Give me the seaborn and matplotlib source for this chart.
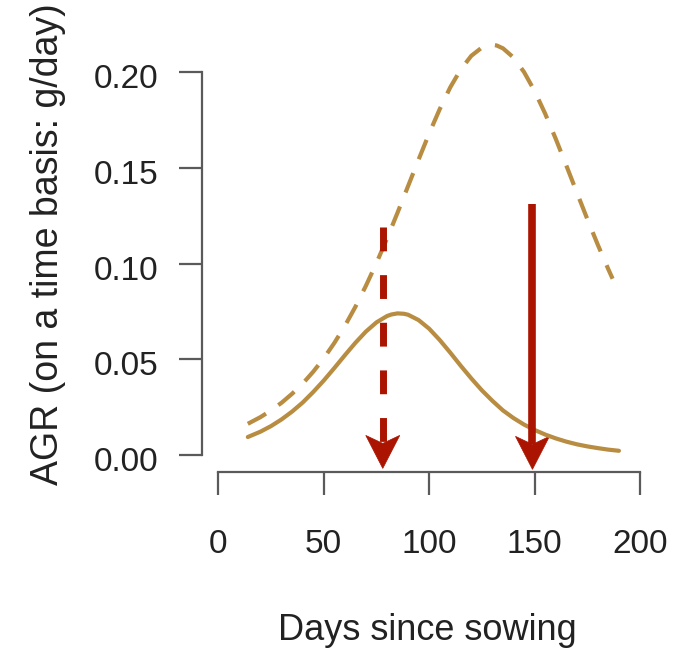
import matplotlib
matplotlib.use("Agg")
import matplotlib.pyplot as plt
from matplotlib.patches import Polygon
from matplotlib.transforms import IdentityTransform, ScaledTranslation
import seaborn as sns

# Absolute growth rate curves (g/day) against days since sowing
days_low = [14, 20, 25, 30, 35, 40, 45, 50, 55, 60, 65, 70, 75, 80, 82, 85,
            88, 90, 95, 100, 105, 110, 115, 120, 125, 130, 135, 140, 145,
            150, 155, 160, 165, 170, 175, 180, 185, 190]
agr_low = [0.0094, 0.0122, 0.0151, 0.0186, 0.0227, 0.0274, 0.0329, 0.0389,
           0.0454, 0.0521, 0.0586, 0.0645, 0.0693, 0.0726, 0.0734, 0.0740,
           0.0738, 0.0733, 0.0705, 0.0660, 0.0601, 0.0535, 0.0466, 0.0400,
           0.0338, 0.0283, 0.0233, 0.0193, 0.0159, 0.0131, 0.0107, 0.0087,
           0.0070, 0.0056, 0.0045, 0.0036, 0.0028, 0.0022]

days_high = [14, 20, 25, 30, 35, 40, 45, 50, 55, 60, 65, 70, 75, 80, 85, 90,
             95, 100, 105, 110, 115, 120, 125, 128, 130, 132, 135, 140, 145,
             150, 155, 160, 165, 170, 175, 180, 185, 187]
agr_high = [0.0163, 0.0198, 0.0233, 0.0273, 0.0320, 0.0373, 0.0435, 0.0505,
            0.0585, 0.0674, 0.0774, 0.0884, 0.1003, 0.1131, 0.1266, 0.1405,
            0.1544, 0.1680, 0.1807, 0.1921, 0.2015, 0.2086, 0.2129, 0.2140,
            0.2143, 0.2140, 0.2125, 0.2077, 0.2001, 0.1902, 0.1784, 0.1653,
            0.1514, 0.1373, 0.1233, 0.1098, 0.0970, 0.0921]

# Arrows marking the days of maximum growth rate
arrow_days = [78, 149]
arrow_from = [0.119, 0.131]
arrow_to = [-0.007, -0.0075]

x_ticks = [0, 50, 100, 150, 200]
y_ticks = [0.00, 0.05, 0.10, 0.15, 0.20]
y_tick_labels = ["0.00", "0.05", "0.10", "0.15", "0.20"]

sns.set_style("white")
plt.rcParams["font.family"] = ["Liberation Sans", "DejaVu Sans"]

GOLD = "#B88C41"
RED = "#AA1400"
AXIS = "#5A5A5A"
TEXT = "#222222"

W, H = 684, 652
fig = plt.figure(figsize=(W / 100, H / 100), dpi=100)
ax = fig.add_axes([202 / W, 1 - 472 / H, (660 - 202) / W, (472 - 20) / H])

sns.lineplot(x=days_low, y=agr_low, ax=ax, color=GOLD, linewidth=3.0)
sns.lineplot(x=days_high, y=agr_high, ax=ax, color=GOLD, linewidth=3.0)
ax.lines[-1].set_dashes((5.0, 3.6))

ax.set_xlim(-7.73, 209.48)
ax.set_ylim(-0.00888, 0.2273)

# axis styling: detached spines limited to the tick range
for side in ("top", "right"):
    ax.spines[side].set_visible(False)
for side in ("left", "bottom"):
    ax.spines[side].set_color(AXIS)
    ax.spines[side].set_linewidth(1.6)
ax.spines["left"].set_bounds(0, 0.2)
ax.spines["bottom"].set_bounds(0, 200)

ax.set_xticks(x_ticks)
ax.set_yticks(y_ticks)
ax.set_yticklabels(y_tick_labels)
ax.tick_params(axis="both", direction="out", length=16.6, width=1.6,
               color=AXIS, labelsize=24, labelcolor=TEXT,
               bottom=True, left=True)
ax.tick_params(axis="x", pad=24.5)
ax.tick_params(axis="y", pad=15)
for lab in ax.get_yticklabels():
    lab.set_transform(lab.get_transform() +
                      ScaledTranslation(0, -4 / 100, fig.dpi_scale_trans))

ax.set_xlabel("")
ax.set_ylabel("")
fig.text(427.5 / W, 1 - 640 / H, "Days since sowing", fontsize=26,
         color=TEXT, ha="center", va="baseline")
fig.text(48 / W, 1 - 244 / H, "AGR (on a time basis: g/day)", fontsize=27,
         color=TEXT, ha="center", va="center", rotation=90)

# arrows: shaft as a line, head as a notched triangle in pixel units
fig.canvas.draw()
head_len, head_half, notch = 33, 17, 25
styles = [dict(lw=5.0, dashes=(3.43, 3.43)), dict(lw=5.5)]
for xd, y0, y1, st in zip(arrow_days, arrow_from, arrow_to, styles):
    tx, ty = ax.transData.transform((xd, y1))
    _, shaft_end = ax.transData.inverted().transform((tx, ty + notch))
    ax.plot([xd, xd], [y0, shaft_end], color=RED, solid_capstyle="butt",
            dash_capstyle="butt", **st)
    head = Polygon([(tx, ty), (tx + head_half, ty + head_len),
                    (tx, ty + notch), (tx - head_half, ty + head_len)],
                   closed=True, facecolor=RED, edgecolor=RED, lw=0.5,
                   transform=IdentityTransform(), clip_on=False)
    ax.add_artist(head)

fig.savefig("out.png", dpi=100)
